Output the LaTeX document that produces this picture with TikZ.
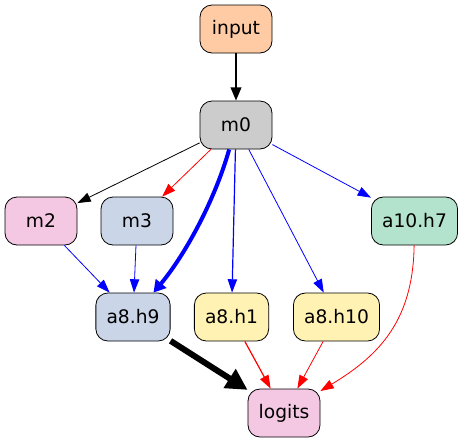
\documentclass[tikz,border=0pt]{standalone}
\usepackage{fontspec}
\setmainfont{DejaVu Sans}
\usetikzlibrary{arrows.meta}
\definecolor{peach}{HTML}{FECBA5}
\definecolor{grayc}{HTML}{CCCCCC}
\definecolor{pinkc}{HTML}{F4C8E3}
\definecolor{slatec}{HTML}{CAD5E8}
\definecolor{mintc}{HTML}{B3E3CC}
\definecolor{lemonc}{HTML}{FFF2B2}
\tikzset{
    unit/.style={draw=black, line width=0.6pt, rounded corners=9pt, minimum width=54pt,
        minimum height=36pt, inner xsep=8pt, font=\fontsize{14pt}{16pt}\selectfont},
    thin edge/.style={line width=0.6pt, -{Triangle[length=10pt, width=7pt]}},
    mid edge/.style={line width=0.9pt, -{Triangle[length=10pt, width=7pt]}}
}
\begin{document}
\begin{tikzpicture}[x=0.75pt, y=-0.75pt]
    \useasboundingbox (0,0) rectangle (463,443);

    % nodes
    \node[unit, fill=peach]  (input)  at (236, 29)  {input};
    \node[unit, fill=grayc]  (m0)     at (236, 125) {m0};
    \node[unit, fill=pinkc]  (m2)     at (41, 221)  {m2};
    \node[unit, fill=slatec] (m3)     at (137, 221) {m3};
    \node[unit, fill=mintc]  (a10h7)  at (414.5, 221) {a10.h7};
    \node[unit, fill=slatec] (a8h9)   at (133, 317) {a8.h9};
    \node[unit, fill=lemonc] (a8h1)   at (231.5, 317) {a8.h1};
    \node[unit, fill=lemonc] (a8h10)  at (336.5, 317) {a8.h10};
    \node[unit, fill=pinkc]  (logits) at (284, 413) {logits};

    % edges out of input and m0
    \draw[line width=1.5pt, -{Triangle[length=10pt, width=8pt]}] (input) -- (m0);
    \draw[thin edge, black] (m0) -- (m2);
    \draw[thin edge, red] (m0) -- (m3);
    \draw[line width=3pt, blue, -{Triangle[length=9pt, width=10pt]}]
        (m0) .. controls (215, 200) and (185, 255) .. (a8h9);
    \draw[mid edge, blue] (m0) -- (a8h1);
    \draw[thin edge, blue] (m0) -- (a8h10);
    \draw[thin edge, blue] (m0) -- (a10h7);

    % edges into a8.h9
    \draw[thin edge, blue] (m2) -- (a8h9);
    \draw[thin edge, blue] (m3) -- (a8h9);

    % edges into logits
    \draw[line width=4.5pt, -{Triangle[length=16pt, width=16pt]}] (a8h9) -- (logits);
    \draw[mid edge, red] (a8h1) -- (logits);
    \draw[thin edge, red] (a8h10) -- (logits);
    \draw[thin edge, red] (a10h7) .. controls (413, 320) and (380, 355) .. (logits);
\end{tikzpicture}
\end{document}
